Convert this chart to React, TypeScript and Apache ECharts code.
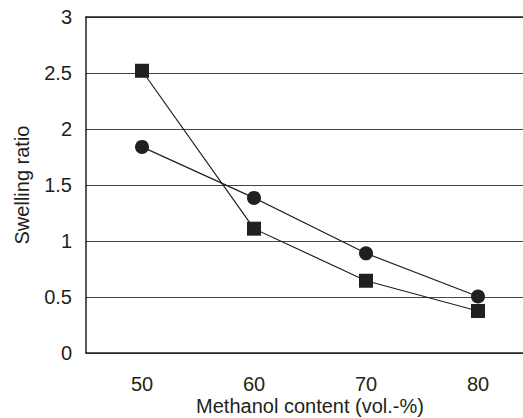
import React, { useEffect, useRef } from "react";
import * as echarts from "echarts";

const categories = ["50", "60", "70", "80"];
const squareSeries = [2.52, 1.11, 0.645, 0.375];
const circleSeries = [1.84, 1.385, 0.89, 0.505];
const yMin = 0;
const yMax = 3;
const yStep = 0.5;

const FONT = "'Liberation Sans', Arial, sans-serif";
const INK = "#231f20";

export default function App() {
  const ref = useRef<HTMLDivElement>(null);
  useEffect(() => {
    if (!ref.current) return;
    const chart = echarts.init(ref.current, undefined, { renderer: "svg" });
    chart.setOption({
      animation: false,
      backgroundColor: "#ffffff",
      grid: { left: 86, top: 17, width: 448, height: 336, containLabel: false, outerBoundsMode: "none" },
      xAxis: [
        {
          type: "category",
          data: categories,
          boundaryGap: true,
          position: "bottom",
          name: "Methanol content (vol.-%)",
          nameLocation: "middle",
          nameGap: 43,
          nameMoveOverlap: false,
          nameTextStyle: { fontFamily: FONT, fontSize: 20, color: INK, lineHeight: 20 },
          axisLine: { lineStyle: { color: INK, width: 1.5 } },
          axisTick: { inside: true, length: 6, lineStyle: { color: INK, width: 1 } },
          axisLabel: { fontFamily: FONT, fontSize: 20, color: INK, margin: 21 },
          splitLine: { show: false },
        },
        {
          type: "category",
          data: categories,
          position: "top",
          axisLine: { lineStyle: { color: INK, width: 1.5 } },
          axisTick: { show: false },
          axisLabel: { show: false },
          splitLine: { show: false },
        },
      ],
      yAxis: {
        type: "value",
        min: yMin,
        max: yMax,
        interval: yStep,
        name: "Swelling ratio",
        nameLocation: "middle",
        nameGap: 54,
        nameMoveOverlap: false,
        nameTextStyle: { fontFamily: FONT, fontSize: 20, color: INK },
        axisLine: { show: true, lineStyle: { color: INK, width: 1.5 } },
        axisTick: { show: false },
        axisLabel: { fontFamily: FONT, fontSize: 20, color: INK, margin: 14 },
        splitLine: { show: true, lineStyle: { color: "#444444", width: 1 } },
      },
      series: [
        {
          type: "line",
          data: squareSeries,
          symbol: "rect",
          symbolSize: 14,
          lineStyle: { color: INK, width: 1.2 },
          itemStyle: { color: INK },
          z: 3,
        },
        {
          type: "line",
          data: circleSeries,
          symbol: "circle",
          symbolSize: 14,
          lineStyle: { color: INK, width: 1.2 },
          itemStyle: { color: INK },
          z: 3,
        },
      ],
    });
    return () => chart.dispose();
  }, []);
  return (
    <div
      ref={ref}
      style={{ position: "absolute", left: 0, top: 0, width: 523, height: 418 }}
    />
  );
}
